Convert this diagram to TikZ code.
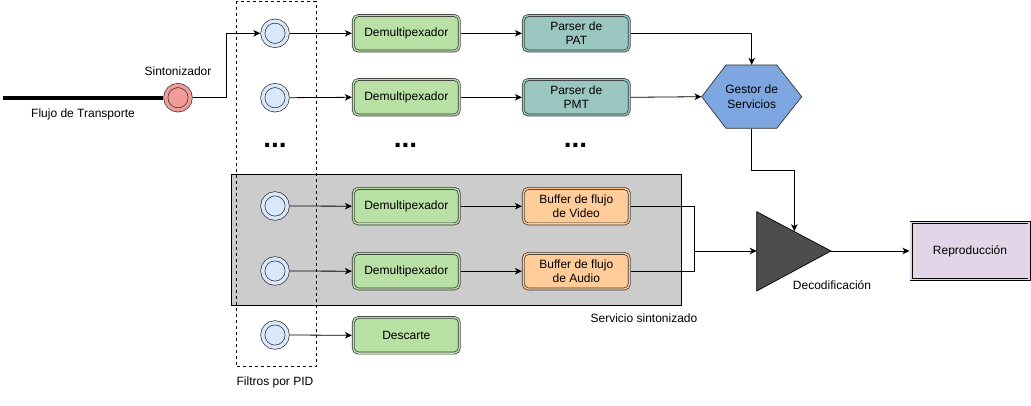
\documentclass[tikz,border=0pt]{standalone}
\usepackage{fontspec}
\setmainfont{Liberation Sans}
\usetikzlibrary{arrows.meta}
\definecolor{gfill}{HTML}{B9E0A5}
\definecolor{tfill}{HTML}{9AC7BF}
\definecolor{ofill}{HTML}{FFCC99}
\definecolor{pfill}{HTML}{E1D5E7}
\definecolor{bfill}{HTML}{DAE8FC}
\definecolor{rfill}{HTML}{F19C99}
\definecolor{hfill}{HTML}{7EA6E0}
\definecolor{trifill}{HTML}{4D4D4D}
\definecolor{grayfill}{HTML}{CCCCCC}
\definecolor{edge}{HTML}{333333}
\begin{document}
\begin{tikzpicture}[x=1pt,y=-1pt,
  font=\fontsize{12}{14.5}\selectfont,
  >={Stealth[length=7pt,width=6.5pt,inset=2pt]},
  conn/.style={draw=black,line width=0.8pt},
  arr/.style={conn,->},
  filt/.style={circle,draw=edge,line width=0.7pt,double=#1,double distance=3.4pt,
    fill=#1,minimum size=24.5pt,inner sep=0pt,outer sep=2.4pt},
  box/.style={rectangle,rounded corners=5pt,draw=edge,line width=0.7pt,double=#1,
    double distance=1.4pt,fill=#1,minimum width=106pt,minimum height=35.5pt,
    inner sep=1pt,outer sep=1.4pt,align=center},
  lbl/.style={inner sep=0pt},
  dots/.style={inner sep=0pt,font=\fontsize{28}{28}\selectfont\bfseries}
]
\useasboundingbox (0,0) rectangle (1031,406);

% grey service box and dashed PID box
\draw[fill=grayfill,draw=black,line width=0.8pt] (231.7,174.3) rectangle (681.7,305);
\draw[dashed,line width=0.8pt] (236,1.5) rectangle (316,366.7);

% tuner and transport stream
\node[filt=rfill] (sint) at (178,97.7) {};
\coordinate (tsstart) at (3,97.7);
\draw[line width=4pt] (tsstart) -- (sint.west);
\node[lbl] (lsint) at (178,71) {Sintonizador};
\node[lbl] (lflujo) at (83,114.5) {Flujo de Transporte};

% PID filters
\node[filt=bfill] (f1) at (275,33.3) {};
\node[filt=bfill] (f2) at (275,97.7) {};
\node[filt=bfill] (f4) at (275,206) {};
\node[filt=bfill] (f5) at (275,271) {};
\node[filt=bfill] (f6) at (275,335) {};
\node[lbl] (lfilt) at (275,382) {Filtros por PID};

% demultiplexers
\node[box=gfill] (d1) at (406.3,33.3) {Demultipexador};
\node[box=gfill] (d2) at (406.3,97.3) {Demultipexador};
\node[box=gfill] (d4) at (406.3,206.2) {Demultipexador};
\node[box=gfill] (d5) at (406.3,271.2) {Demultipexador};
\node[box=gfill] (d6) at (406.3,335.3) {Descarte};

% parsers and buffers
\node[box=tfill] (p1) at (576.3,33.3) {Parser de\\PAT};
\node[box=tfill] (p2) at (576.3,97.3) {Parser de\\PMT};
\node[box=ofill] (b4) at (576.3,206.2) {Buffer de flujo\\de Video};
\node[box=ofill] (b5) at (576.3,271.2) {Buffer de flujo\\de Audio};

% ellipses
\node[dots] (e1) at (275,145) {...};
\node[dots] (e2) at (405.5,145) {...};
\node[dots] (e3) at (575.5,145) {...};

\node[lbl] (lserv) at (644,318.5) {Servicio sintonizado};

% service manager hexagon
\draw[fill=hfill,draw=edge,line width=0.7pt] (701.7,96.7) -- (726,65) -- (776.7,65)
  -- (801.7,96.7) -- (776.7,128.3) -- (726,128.3) -- cycle;
\node[minimum width=100pt,minimum height=63.3pt,inner sep=0pt,align=center] (gestor)
  at (751.7,96.7) {Gestor de\\Servicios};

% decoder triangle
\draw[fill=trifill,draw=black,line width=0.7pt] (756.7,211.7) -- (831,251) -- (756.7,291) -- cycle;
\coordinate (decL) at (756.7,251);
\coordinate (decR) at (831,251);
\coordinate (decT) at (794.3,231.2);
\node[lbl] (ldec) at (832,285) {Decodificación};

% playback
\node[rectangle,draw=black,line width=0.7pt,double=pfill,double distance=1.6pt,fill=pfill,
  minimum width=118pt,minimum height=57pt,outer sep=1.5pt] (rep) at (970,251) {Reproducción};

% connectors
\draw[arr] (sint.east) -- ++(34,0) |- (f1.west);
\draw[arr] (f1.east) -- (d1.west);
\draw[arr] (f2.east) -- (d2.west);
\draw[arr] (f4.east) -- (d4.west);
\draw[arr] (f5.east) -- (d5.west);
\draw[arr] (f6.east) -- (d6.west);
\draw[arr] (d1.east) -- (p1.west);
\draw[arr] (d2.east) -- (p2.west);
\draw[arr] (d4.east) -- (b4.west);
\draw[arr] (d5.east) -- (b5.west);
\draw[arr] (p1.east) -| (gestor.north);
\draw[arr] (p2.east) -- (gestor.west);
\draw[arr] (gestor.south) -- ++(0,41.7) -| (decT);
\coordinate (bk) at (694.3,251);
\draw[conn] (b4.east) -| (bk) |- (b5.east);
\draw[arr] (bk) -- (decL);
\draw[arr] (decR) -- (rep.west);
\end{tikzpicture}
\end{document}
